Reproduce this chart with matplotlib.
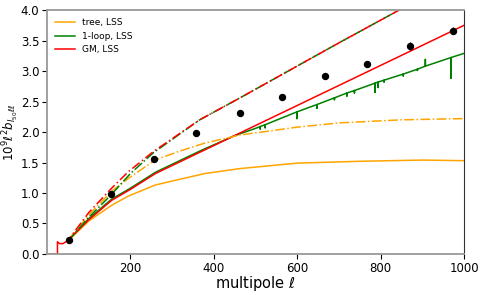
import numpy as np
import matplotlib
matplotlib.use("Agg")
import matplotlib.pyplot as plt

# --- values ---
ell_data = [52, 153, 256, 357, 462, 564, 666, 768, 870, 973]
cl_data = [0.23, 0.99, 1.56, 1.98, 2.31, 2.57, 2.92, 3.12, 3.41, 3.66]
cl_err = [0.02, 0.03, 0.03, 0.04, 0.04, 0.05, 0.05, 0.05, 0.06, 0.06]

tree_ell = [51, 100, 155, 195, 259, 315, 379, 462, 600, 750, 900, 1000]
tree_lss = [0.22, 0.54, 0.80, 0.95, 1.13, 1.22, 1.32, 1.40, 1.49, 1.52, 1.54, 1.53]

tree2_ell = [51, 100, 155, 195, 259, 315, 379, 462, 600, 702, 850, 1000]
tree2 = [0.23, 0.64, 1.03, 1.24, 1.54, 1.68, 1.82, 1.95, 2.08, 2.15, 2.20, 2.22]

gm_ell = [2, 25, 25, 30, 38, 45, 51, 100, 155, 200, 260, 315, 370, 1000]
gm_lss = [0.0, 0.0, 0.20, 0.17, 0.17, 0.20, 0.23, 0.56, 0.88, 1.06, 1.32, 1.50, 1.68, 3.75]

gm2_ell = [51, 100, 155, 195, 255, 366, 460, 702, 1000]
gm2 = [0.23, 0.68, 1.08, 1.35, 1.68, 2.20, 2.55, 3.47, 4.58]

loop2_ell = [51, 100, 155, 200, 255, 366, 460, 702, 1000]
loop2 = [0.22, 0.60, 0.98, 1.32, 1.66, 2.20, 2.55, 3.47, 4.58]

# 1-loop LSS, including the numerical spikes
loop_ell = [51, 100, 155, 200, 260, 315, 370, 450, 500,
            511, 511, 511, 523, 523, 523, 599, 599, 599, 647, 647, 647,
            689, 689, 689, 719, 719, 719, 737, 737, 737, 786, 786, 786,
            794, 794, 794, 808, 808, 808, 854, 854, 854, 888, 888, 888,
            907, 907, 907, 968, 968, 968, 1000]
loop_lss = [0.23, 0.58, 0.90, 1.08, 1.34, 1.52, 1.70, 1.94, 2.06,
            2.09, 2.05, 2.09, 2.12, 2.07, 2.12, 2.33, 2.22, 2.33, 2.45, 2.39, 2.45,
            2.56, 2.53, 2.56, 2.64, 2.59, 2.64, 2.68, 2.64, 2.68, 2.80, 2.65, 2.80,
            2.82, 2.73, 2.82, 2.85, 2.82, 2.85, 2.95, 2.92, 2.95, 3.03, 3.01, 3.03,
            3.08, 3.19, 3.08, 3.22, 2.88, 3.22, 3.29]

fig = plt.figure(figsize=(4.85, 2.95), dpi=100)
ax = fig.add_axes([0.097, 0.139, 0.86, 0.827])

lw = 1.1
ax.plot(tree_ell, tree_lss, color='orange', lw=lw, label='tree, LSS')
ax.plot(loop_ell, loop_lss, color='green', lw=lw, label='1-loop, LSS')
ax.plot(gm_ell, gm_lss, color='red', lw=lw, label='GM, LSS')
ax.plot(tree2_ell, tree2, color='orange', lw=lw, ls='-.')
ax.plot(loop2_ell, loop2, color='green', lw=lw, ls='-.')
ax.plot(gm2_ell, gm2, color='red', lw=lw, ls=(3, (6, 2, 1, 2)))

ax.errorbar(ell_data, cl_data, yerr=cl_err, fmt='o', color='black',
            ms=4.3, elinewidth=1, capsize=0)

ax.set_xlim(0, 1000)
ax.set_ylim(0, 4)
ax.set_xticks([200, 400, 600, 800, 1000])
ax.tick_params(labelsize=8.5, pad=2)
ax.set_xlabel(r'multipole $\ell$', fontsize=10.5)
ax.xaxis.set_label_coords(0.5, -0.08)
ax.set_ylabel(r'$10^9\ell^2 b_{I_{50}\ell\ell}$', fontsize=8.5)
ax.yaxis.set_label_coords(-0.063, 0.5)

for s in ['top', 'bottom', 'left']:
    ax.spines[s].set_color('0.6')
    ax.spines[s].set_linewidth(1.3)
ax.spines['right'].set_color('0.2')

ax.legend(loc='upper left', frameon=False, fontsize=6.5, handlelength=2.2)

fig.savefig('out.png', dpi=100)
